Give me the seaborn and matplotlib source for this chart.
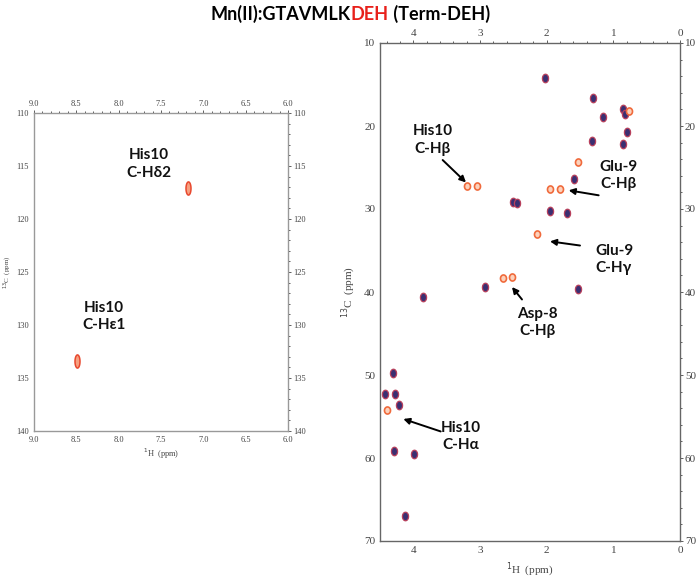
import numpy as np
import pandas as pd
import seaborn as sns
import matplotlib.pyplot as plt
from matplotlib.path import Path
from matplotlib.ticker import MultipleLocator

# aromatic region (left panel)
arom_h = [7.18, 8.49]
arom_c = [117.05, 133.4]

# aliphatic region (right panel) - dark spectrum
dark_h = [2.02, 1.30, 1.15, 0.86, 0.83, 0.79, 0.85, 1.32, 1.59, 2.50, 2.45,
          1.95, 1.69, 2.93, 1.53, 3.86, 4.30, 4.42, 4.28, 4.22, 4.29, 3.99, 4.12]
dark_c = [14.25, 16.6, 18.9, 17.9, 18.5, 20.7, 22.15, 21.8, 26.4, 29.2, 29.3,
          30.2, 30.5, 39.4, 39.6, 40.6, 49.7, 52.3, 52.3, 53.6, 59.1, 59.5, 67.0]

# orange spectrum
orange_h = [0.77, 1.53, 3.20, 3.04, 1.95, 1.80, 2.15, 2.65, 2.52, 4.39]
orange_c = [18.15, 24.35, 27.2, 27.2, 27.6, 27.55, 33.0, 38.3, 38.25, 54.2]

left_labels = ["His10\nC-H\u03b42", "His10\nC-H\u03b51"]
left_label_pos = [(7.64, 114.8), (8.17, 129.2)]

right_labels = ["His10\nC-H\u03b2", "Glu-9\nC-H\u03b2", "Glu-9\nC-H\u03b3",
                "Asp-8\nC-H\u03b2", "His10\nC-H\u03b1"]
right_label_pos = [(3.71, 21.7), (0.92, 26.0), (0.99, 36.1), (2.14, 43.7), (3.29, 57.4)]
arrow_tail = [(3.56, 24.1), (1.22, 28.35), (1.50, 34.4), (2.37, 40.9), (3.59, 56.8)]
arrow_head = [(3.21, 26.8), (1.67, 27.75), (1.95, 33.9), (2.52, 39.4), (4.15, 55.3)]

sns.set_style("white")
plt.rcParams['font.family'] = ['Lato', 'DejaVu Sans']


def ellipse(wx):
    t = np.linspace(0, 2 * np.pi, 40)
    return Path(np.column_stack([wx * np.cos(t), np.sin(t)]), closed=True)


fig = plt.figure(figsize=(7, 5.8), dpi=100)
ax1 = fig.add_axes([34 / 700, 1 - 431 / 580, 254 / 700, 318 / 580])
ax2 = fig.add_axes([380 / 700, 1 - 541 / 580, 300 / 700, 498 / 580])

df_arom = pd.DataFrame({"H": arom_h, "C": arom_c})
df_dark = pd.DataFrame({"H": dark_h, "C": dark_c})
df_or = pd.DataFrame({"H": orange_h, "C": orange_c})

sns.scatterplot(data=df_arom, x="H", y="C", ax=ax1, marker=ellipse(0.38), s=90,
                color="#f6a080", edgecolor="#e8482e", linewidth=1.1, zorder=3)
sns.scatterplot(data=df_dark, x="H", y="C", ax=ax2, marker=ellipse(0.72), s=38,
                color="#3a2f72", edgecolor="#b8405c", linewidth=0.9, zorder=3)
sns.scatterplot(data=df_or, x="H", y="C", ax=ax2, marker=ellipse(0.85), s=26,
                color="#fcd2bc", edgecolor="#f06a3c", linewidth=1.2, zorder=4)

for ax, xl, yl, xmaj, xmin, ymaj, ymin, fs, spc in [
        (ax1, (9.0, 6.0), (140, 110), 0.5, 0.1, 5, 1, 6, "#999999"),
        (ax2, (4.5, 0), (70, 10), 1, 0.2, 10, 2, 8, "#666666")]:
    ax.set_xlim(*xl)
    ax.set_ylim(*yl)
    ax.xaxis.set_major_locator(MultipleLocator(xmaj))
    ax.xaxis.set_minor_locator(MultipleLocator(xmin))
    ax.yaxis.set_major_locator(MultipleLocator(ymaj))
    ax.yaxis.set_minor_locator(MultipleLocator(ymin))
    ax.tick_params(which="both", direction="out", top=True, right=True,
                   labeltop=True, labelright=True, labelsize=fs,
                   colors="#444444", pad=1, width=0.6)
    ax.tick_params(which="major", length=2.5)
    ax.tick_params(which="minor", length=1.5)
    for lab in ax.get_xticklabels() + ax.get_yticklabels():
        lab.set_family("Liberation Serif")
    for sp in ax.spines.values():
        sp.set_color(spc)
        sp.set_linewidth(1.0)

ax1.xaxis.set_major_formatter(plt.FormatStrFormatter("%.1f"))
ax1.set_xlabel(r"$^{1}$H  (ppm)", fontsize=6, family="Liberation Serif", color="#444444", labelpad=2)
ax1.set_ylabel(r"$^{13}$C  (ppm)", fontsize=5, family="Liberation Serif", color="#444444", labelpad=2)
ax2.set_xlabel(r"$^{1}$H  (ppm)", fontsize=8, family="Liberation Serif", color="#444444", labelpad=4)
ax2.set_ylabel(r"$^{13}$C  (ppm)", fontsize=8, family="Liberation Serif", color="#444444", labelpad=4)

for txt, (x, y) in zip(left_labels, left_label_pos):
    ax1.text(x, y, txt, ha="center", va="center", fontsize=11,
             fontweight="bold", linespacing=1.3, color="#111111")

for txt, (x, y) in zip(right_labels, right_label_pos):
    ax2.text(x, y, txt, ha="center", va="center", fontsize=11,
             fontweight="bold", linespacing=1.3, color="#111111")
for tail, head in zip(arrow_tail, arrow_head):
    ax2.annotate("", xy=head, xytext=tail,
                 arrowprops=dict(arrowstyle="-|>", color="black", lw=1.4,
                                 mutation_scale=9, shrinkA=0, shrinkB=0))

# title in three colour pieces
parts = [("Mn(II):GTAVMLK", "black"), ("DEH", "#e8201a"), (" (Term-DEH)", "black")]
fig.canvas.draw()
r = fig.canvas.get_renderer()
texts = []
for s, c in parts:
    texts.append(fig.text(0, 1 - 14 / 580, s, color=c, fontsize=13,
                          fontweight="bold", va="center", ha="left"))
widths = [t.get_window_extent(r).width for t in texts]
x0 = 350 - sum(widths) / 2
for t, w in zip(texts, widths):
    t.set_x(x0 / 700)
    x0 += w

fig.savefig("out.png", dpi=100)
